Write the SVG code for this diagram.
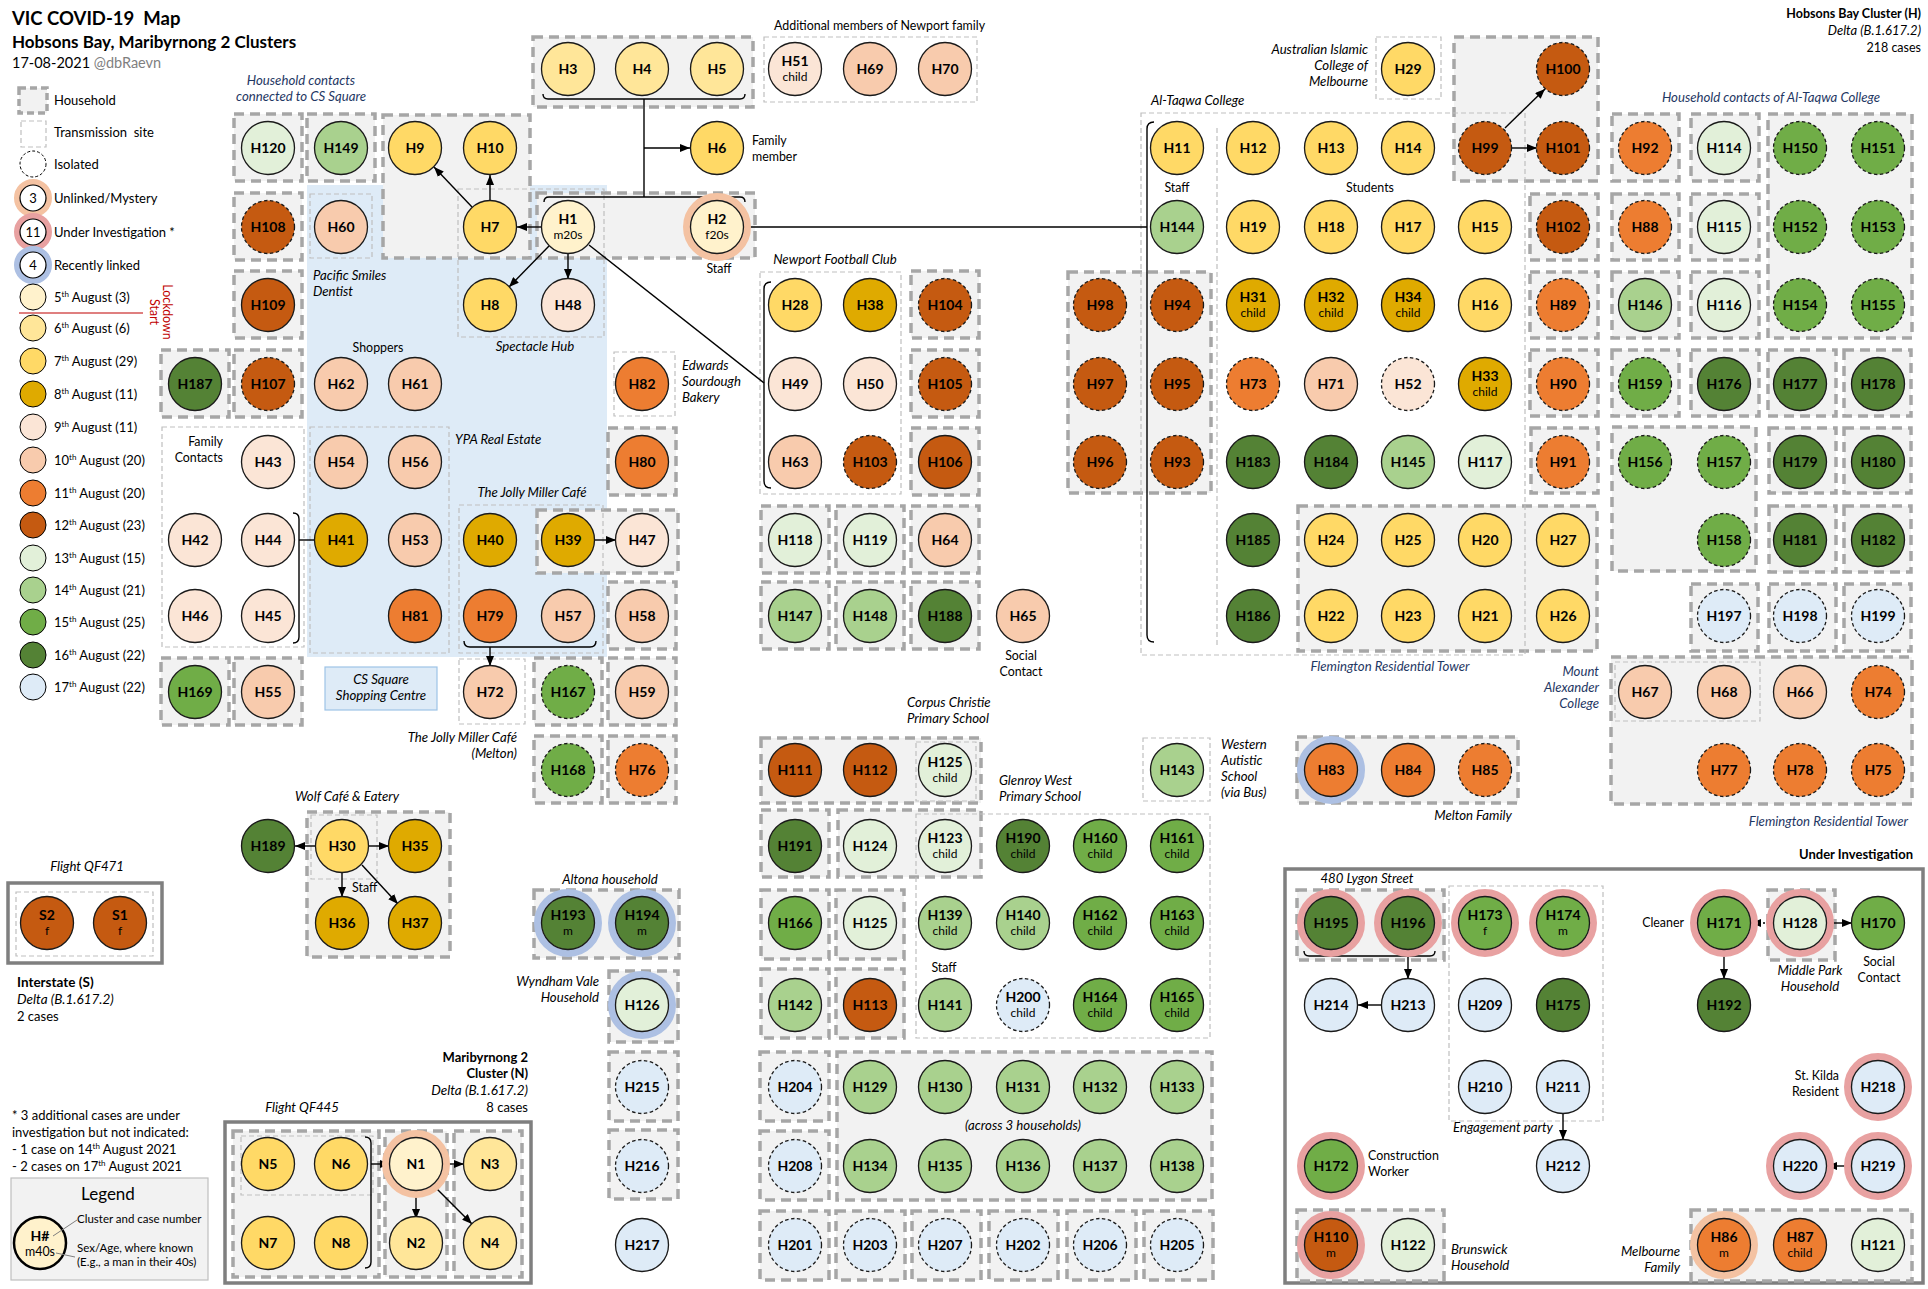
<svg xmlns="http://www.w3.org/2000/svg" width="1928" height="1289" viewBox="0 0 1928 1289">
<style>
text{font-family:Lato,"Liberation Sans",sans-serif;font-size:12.4px;fill:#000}
.n circle{stroke:#1a1a1a;stroke-width:1.3}
.n text{font-weight:bold;font-size:14px;text-anchor:middle}
.n text.s{font-weight:normal;font-size:12px}
.n circle.ds{stroke-dasharray:3.5 2.5}
.n circle.ru{fill:none;stroke:#F4C2A2;stroke-width:7}
.n circle.ri{fill:none;stroke:#E8A1A1;stroke-width:7}
.n circle.rr{fill:none;stroke:#ADC0E3;stroke-width:7}
.d5{fill:#FFF2CC}.d6{fill:#FFE699}.d7{fill:#FFD966}.d8{fill:#DFAA00}.d9{fill:#FBE5D6}.d10{fill:#F8CBAD}.d11{fill:#ED7D31}.d12{fill:#C55A11}.d13{fill:#E2F0D9}.d14{fill:#A9D18E}.d15{fill:#70AD47}.d16{fill:#548235}.d17{fill:#DEEBF7}
.hh{fill:#F2F2F2;stroke:#A6A6A6;stroke-width:3.5;stroke-dasharray:10 6}
.ts{fill:none;stroke:#BFBFBF;stroke-width:1.2;stroke-dasharray:5 3}
.ob{fill:none;stroke:#7F7F7F;stroke-width:3.5}
.c{fill:none;stroke:#000;stroke-width:1.4}
.a{marker-end:url(#arr)}
.i{font-style:italic;font-size:13.2px}.b{font-weight:bold}.db{fill:#1F3864}.m{text-anchor:middle}.e{text-anchor:end}
.lg{font-size:13px}
</style>
<defs>
<marker id="arr" viewBox="0 0 10 8" refX="10" refY="4" markerWidth="10" markerHeight="8" orient="auto" markerUnits="userSpaceOnUse"><path d="M0,0 L10,4 L0,8 z" fill="#000"/></marker>
</defs>
<rect width="1928" height="1289" fill="#fff"/>

<!-- Title -->
<g id="title">
<text x="12" y="25" class="b" style="font-size:18.5px">VIC COVID-19&#160; Map</text>
<text x="12" y="48" class="b" style="font-size:17px">Hobsons Bay, Maribyrnong 2 Clusters</text>
<text x="12" y="68" style="font-size:14.5px">17-08-2021 <tspan fill="#7F7F7F">@dbRaevn</tspan></text>
<text x="1921" y="18" class="b e" style="font-size:12.5px">Hobsons Bay Cluster (H)</text>
<text x="1921" y="35" class="i e" style="font-size:13px">Delta (B.1.617.2)</text>
<text x="1921" y="52" class="e" style="font-size:12.5px">218 cases</text>
</g>

<!-- Legend (left) -->
<g id="legend">
<rect class="hh" x="19" y="88" width="28" height="25" style="stroke-dasharray:7 4"/>
<rect class="ts" x="21" y="121" width="25" height="26"/>
<circle cx="33" cy="164" r="13" fill="#fff" stroke="#000" stroke-width="1" stroke-dasharray="3 2"/>
<circle cx="33" cy="198" r="16" fill="none" stroke="#F4C2A2" stroke-width="6"/>
<circle cx="33" cy="198" r="13" fill="#fff" stroke="#000" stroke-width="1.2"/>
<circle cx="33" cy="232" r="16" fill="none" stroke="#E8A1A1" stroke-width="6"/>
<circle cx="33" cy="232" r="13" fill="#fff" stroke="#000" stroke-width="1.2"/>
<circle cx="33" cy="265" r="16" fill="none" stroke="#ADC0E3" stroke-width="6"/>
<circle cx="33" cy="265" r="13" fill="#fff" stroke="#000" stroke-width="1.2"/>
<text x="33" y="203" class="m lg">3</text>
<text x="33" y="237" class="m lg">11</text>
<text x="33" y="270" class="m lg">4</text>
<g stroke="#000" stroke-width="1">
<circle class="d5" cx="33" cy="297" r="13"/>
<circle class="d6" cx="33" cy="328" r="13"/>
<circle class="d7" cx="33" cy="361" r="13"/>
<circle class="d8" cx="33" cy="394" r="13"/>
<circle class="d9" cx="33" cy="427" r="13"/>
<circle class="d10" cx="33" cy="460" r="13"/>
<circle class="d11" cx="33" cy="493" r="13"/>
<circle class="d12" cx="33" cy="525" r="13"/>
<circle class="d13" cx="33" cy="558" r="13"/>
<circle class="d14" cx="33" cy="590" r="13"/>
<circle class="d15" cx="33" cy="622" r="13"/>
<circle class="d16" cx="33" cy="655" r="13"/>
<circle class="d17" cx="33" cy="687" r="13"/>
</g>
<text x="54" y="105" class="lg">Household</text>
<text x="54" y="137" class="lg">Transmission&#160; site</text>
<text x="54" y="169" class="lg">Isolated</text>
<text x="54" y="203" class="lg">Unlinked/Mystery</text>
<text x="54" y="237" class="lg">Under Investigation *</text>
<text x="54" y="270" class="lg">Recently linked</text>
<text x="54" y="302" class="lg">5<tspan dy="-5" font-size="8">th</tspan><tspan dy="5"> August (3)</tspan></text>
<text x="54" y="333" class="lg">6<tspan dy="-5" font-size="8">th</tspan><tspan dy="5"> August (6)</tspan></text>
<text x="54" y="366" class="lg">7<tspan dy="-5" font-size="8">th</tspan><tspan dy="5"> August (29)</tspan></text>
<text x="54" y="399" class="lg">8<tspan dy="-5" font-size="8">th</tspan><tspan dy="5"> August (11)</tspan></text>
<text x="54" y="432" class="lg">9<tspan dy="-5" font-size="8">th</tspan><tspan dy="5"> August (11)</tspan></text>
<text x="54" y="465" class="lg">10<tspan dy="-5" font-size="8">th</tspan><tspan dy="5"> August (20)</tspan></text>
<text x="54" y="498" class="lg">11<tspan dy="-5" font-size="8">th</tspan><tspan dy="5"> August (20)</tspan></text>
<text x="54" y="530" class="lg">12<tspan dy="-5" font-size="8">th</tspan><tspan dy="5"> August (23)</tspan></text>
<text x="54" y="563" class="lg">13<tspan dy="-5" font-size="8">th</tspan><tspan dy="5"> August (15)</tspan></text>
<text x="54" y="595" class="lg">14<tspan dy="-5" font-size="8">th</tspan><tspan dy="5"> August (21)</tspan></text>
<text x="54" y="627" class="lg">15<tspan dy="-5" font-size="8">th</tspan><tspan dy="5"> August (25)</tspan></text>
<text x="54" y="660" class="lg">16<tspan dy="-5" font-size="8">th</tspan><tspan dy="5"> August (22)</tspan></text>
<text x="54" y="692" class="lg">17<tspan dy="-5" font-size="8">th</tspan><tspan dy="5"> August (22)</tspan></text>
<line x1="19" y1="313" x2="143" y2="313" stroke="#C00000" stroke-width="1.2"/>
<text transform="translate(163,312) rotate(90)" class="m" style="fill:#C00000">Lockdown<tspan x="0" dy="13">Start</tspan></text>
</g>

<!-- Regions / boxes -->
<g id="regions">
<rect x="307" y="185" width="300" height="472" fill="#DEEBF7"/>
<rect class="hh" x="383" y="115" width="147" height="143"/>
<rect class="hh" x="533" y="37" width="220" height="70"/>
<rect class="hh" x="537" y="193" width="218" height="65"/>
<rect class="hh" x="537" y="510" width="141" height="63"/>
<rect class="hh" x="761" y="738" width="220" height="65"/>
<rect class="hh" x="838" y="810" width="143" height="67"/>
<rect class="hh" x="837" y="1052" width="375" height="148"/>
<rect class="hh" x="534" y="890" width="145" height="68"/>
<rect class="hh" x="307" y="812" width="143" height="145"/>
<rect class="hh" x="1068" y="272" width="143" height="221"/>
<rect class="hh" x="1454" y="37" width="144" height="144"/>
<rect class="hh" x="1768" y="114" width="144" height="224"/>
<rect class="hh" x="1612" y="427" width="144" height="144"/>
<rect class="hh" x="1298" y="506" width="299" height="145"/>
<rect class="hh" x="1611" y="657" width="301" height="147"/>
<rect class="hh" x="1297" y="737" width="221" height="66"/>
<g>
<rect class="hh" x="234" y="114" width="68" height="67"/>
<rect class="hh" x="307" y="114" width="68" height="67"/>
<rect class="hh" x="234" y="193" width="68" height="67"/>
<rect class="hh" x="234" y="271" width="68" height="67"/>
<rect class="hh" x="161" y="350" width="68" height="67"/>
<rect class="hh" x="234" y="350" width="68" height="67"/>
<rect class="hh" x="161" y="658" width="68" height="67"/>
<rect class="hh" x="234" y="658" width="68" height="67"/>
<rect class="hh" x="911" y="271" width="68" height="67"/>
<rect class="hh" x="911" y="350" width="68" height="67"/>
<rect class="hh" x="911" y="428" width="68" height="67"/>
<rect class="hh" x="608" y="428" width="68" height="67"/>
<rect class="hh" x="608" y="582" width="68" height="67"/>
<rect class="hh" x="534" y="658" width="68" height="67"/>
<rect class="hh" x="608" y="658" width="68" height="67"/>
<rect class="hh" x="534" y="736" width="68" height="67"/>
<rect class="hh" x="608" y="736" width="68" height="67"/>
<rect class="hh" x="761" y="506" width="68" height="67"/>
<rect class="hh" x="836" y="506" width="68" height="67"/>
<rect class="hh" x="911" y="506" width="68" height="67"/>
<rect class="hh" x="761" y="582" width="68" height="67"/>
<rect class="hh" x="836" y="582" width="68" height="67"/>
<rect class="hh" x="911" y="582" width="68" height="67"/>
<rect class="hh" x="761" y="810" width="68" height="67"/>
<rect class="hh" x="761" y="890" width="68" height="69"/>
<rect class="hh" x="836" y="890" width="68" height="69"/>
<rect class="hh" x="761" y="969" width="68" height="69"/>
<rect class="hh" x="836" y="969" width="68" height="69"/>
<rect class="hh" x="760" y="1052" width="69" height="69"/>
<rect class="hh" x="760" y="1131" width="69" height="69"/>
<rect class="hh" x="760" y="1211" width="69" height="69"/>
<rect class="hh" x="836" y="1211" width="69" height="69"/>
<rect class="hh" x="912" y="1211" width="69" height="69"/>
<rect class="hh" x="989" y="1211" width="69" height="69"/>
<rect class="hh" x="1067" y="1211" width="69" height="69"/>
<rect class="hh" x="1144" y="1211" width="69" height="69"/>
<rect class="hh" x="609" y="971" width="69" height="71"/>
<rect class="hh" x="609" y="1052" width="69" height="69"/>
<rect class="hh" x="609" y="1130" width="69" height="69"/>
<rect class="hh" x="1530" y="194" width="68" height="66"/>
<rect class="hh" x="1530" y="272" width="68" height="66"/>
<rect class="hh" x="1530" y="350" width="68" height="66"/>
<rect class="hh" x="1531" y="428" width="67" height="65"/>
<rect class="hh" x="1612" y="114" width="67" height="67"/>
<rect class="hh" x="1691" y="114" width="68" height="67"/>
<rect class="hh" x="1612" y="194" width="67" height="66"/>
<rect class="hh" x="1691" y="194" width="68" height="66"/>
<rect class="hh" x="1612" y="272" width="67" height="66"/>
<rect class="hh" x="1691" y="272" width="68" height="66"/>
<rect class="hh" x="1612" y="350" width="67" height="66"/>
<rect class="hh" x="1691" y="350" width="68" height="66"/>
<rect class="hh" x="1768" y="350" width="68" height="66"/>
<rect class="hh" x="1844" y="350" width="67" height="66"/>
<rect class="hh" x="1769" y="428" width="67" height="65"/>
<rect class="hh" x="1844" y="428" width="67" height="65"/>
<rect class="hh" x="1769" y="506" width="67" height="66"/>
<rect class="hh" x="1844" y="506" width="67" height="66"/>
<rect class="hh" x="1691" y="584" width="67" height="67"/>
<rect class="hh" x="1769" y="584" width="67" height="67"/>
<rect class="hh" x="1844" y="584" width="67" height="67"/>
</g>
<!-- transmission sites -->
<rect class="ts" x="458" y="189" width="146" height="148"/>
<rect class="ts" x="310" y="194" width="62" height="64"/>
<rect class="ts" x="310" y="427" width="139" height="226"/>
<rect class="ts" x="459" y="505" width="144" height="148"/>
<rect class="ts" x="459" y="659" width="66" height="65"/>
<rect class="ts" x="162" y="427" width="142" height="220"/>
<rect class="ts" x="764" y="37" width="213" height="65"/>
<rect class="ts" x="760" y="272" width="141" height="222"/>
<rect class="ts" x="614" y="352" width="61" height="64"/>
<rect class="ts" x="1376" y="37" width="65" height="62"/>
<rect class="ts" x="1141" y="113" width="384" height="542"/>
<line class="ts" x1="1217" y1="128" x2="1217" y2="647"/>
<rect class="ts" x="311" y="815" width="66" height="64"/>
<rect class="ts" x="916" y="742" width="60" height="59"/>
<rect class="ts" x="916" y="814" width="294" height="224"/>
<rect class="ts" x="1143" y="738" width="67" height="63"/>
<rect class="ts" x="1449" y="886" width="154" height="235"/>
<rect class="ts" x="1615" y="662" width="145" height="59"/>
<rect x="325" y="667" width="112" height="43" fill="#DEEBF7" stroke="#9DC3E6" stroke-width="1.2"/>
<!-- outer cluster boxes -->
<rect class="ob" x="8" y="883" width="154" height="80"/>
<rect class="ts" x="16" y="892" width="137" height="64"/>
<rect class="ob" x="225" y="1122" width="306" height="161"/>
<rect class="hh" x="233" y="1131" width="146" height="146"/>
<rect class="hh" x="385" y="1131" width="62" height="146"/>
<rect class="hh" x="454" y="1131" width="68" height="146"/>
<rect class="ts" x="241" y="1136" width="132" height="59"/>
<rect class="ob" x="1285" y="869" width="638" height="414"/>
<rect class="hh" x="1297" y="890" width="147" height="70"/>
<rect class="hh" x="1297" y="1210" width="147" height="71"/>
<rect class="hh" x="1768" y="890" width="67" height="70"/>
<rect class="hh" x="1691" y="1210" width="221" height="71"/>
</g>

<!-- Connectors -->
<g id="connectors">
<path class="c" d="M543,94 Q543,99 548,99 L740,99 Q745,99 745,94"/>
<path class="c" d="M644,99 L644,197"/>
<path class="c a" d="M644,148 L690,148"/>
<path class="c" d="M544,202 Q544,197 549,197 L740,197 Q745,197 745,202"/>
<path class="c" d="M744,227 L1147,227"/>
<path class="c" d="M1154,122 Q1147,122 1147,129 L1147,635 Q1147,642 1154,642"/>
<path class="c a" d="M541,227 L517,227"/>
<path class="c a" d="M490,200 L490,175"/>
<path class="c a" d="M472,207 L434,167"/>
<path class="c a" d="M549,246 L509,287"/>
<path class="c a" d="M568,254 L568,279"/>
<path class="c" d="M589,245 L764,383" stroke-width="1"/>
<path class="c" d="M771,282 Q764,282 764,289 L764,481 Q764,488 771,488"/>
<path class="c" d="M293,513 Q299,513 299,519 L299,637 Q299,643 293,643"/>
<path class="c" d="M299,540 L315,540"/>
<path class="c a" d="M595,540 L616,540"/>
<path class="c" d="M464,641 Q464,647 470,647 L590,647 Q596,647 596,641"/>
<path class="c a" d="M490,647 L490,666"/>
<path class="c a" d="M1505,128 L1545,89"/>
<path class="c a" d="M1512,148 L1537,148"/>
<path class="c a" d="M315,846 L295,846"/>
<path class="c a" d="M369,846 L389,846"/>
<path class="c a" d="M342,873 L342,897"/>
<path class="c a" d="M362,865 L398,904"/>
<path class="c" d="M365,1137 Q371,1137 371,1143 L371,1262 Q371,1268 365,1268"/>
<path class="c a" d="M371,1164 L390,1164"/>
<path class="c a" d="M443,1164 L464,1164"/>
<path class="c a" d="M416,1193 L416,1219"/>
<path class="c a" d="M435,1187 L472,1224"/>
<path class="c" d="M1304,951 Q1304,956 1309,956 L1430,956 Q1435,956 1435,951"/>
<path class="c a" d="M1408,956 L1408,979"/>
<path class="c a" d="M1381,1005 L1358,1005"/>
<path class="c a" d="M1563,1114 L1563,1140"/>
<path class="c a" d="M1724,950 L1724,979"/>
<path class="c a" d="M1773,923 L1751,923" stroke-dasharray="2 2"/>
<path class="c a" d="M1827,923 L1852,923"/>
<path class="c a" d="M1851,1166 L1827,1166"/>
</g>

<!-- Nodes -->
<g id="nodes" class="n">
<g id="H3"><circle class="d6" cx="568" cy="69" r="26.5"/><text x="568" y="74">H3</text></g>
<g id="H4"><circle class="d6" cx="642" cy="69" r="26.5"/><text x="642" y="74">H4</text></g>
<g id="H5"><circle class="d6" cx="717" cy="69" r="26.5"/><text x="717" y="74">H5</text></g>
<g id="H51"><circle class="d9" cx="795" cy="69" r="26.5"/><text x="795" y="66">H51</text><text class="s" x="795" y="81">child</text></g>
<g id="H69"><circle class="d10" cx="870" cy="69" r="26.5"/><text x="870" y="74">H69</text></g>
<g id="H70"><circle class="d10" cx="945" cy="69" r="26.5"/><text x="945" y="74">H70</text></g>
<g id="H29"><circle class="d7" cx="1408" cy="69" r="26.5"/><text x="1408" y="74">H29</text></g>
<g id="H100"><circle class="d12 ds" cx="1563" cy="69" r="26.5"/><text x="1563" y="74">H100</text></g>

<g id="H120"><circle class="d13" cx="268" cy="148" r="26.5"/><text x="268" y="153">H120</text></g>
<g id="H149"><circle class="d14" cx="341" cy="148" r="26.5"/><text x="341" y="153">H149</text></g>
<g id="H9"><circle class="d7" cx="415" cy="148" r="26.5"/><text x="415" y="153">H9</text></g>
<g id="H10"><circle class="d7" cx="490" cy="148" r="26.5"/><text x="490" y="153">H10</text></g>
<g id="H6"><circle class="d7" cx="717" cy="148" r="26.5"/><text x="717" y="153">H6</text></g>
<g id="H11"><circle class="d7" cx="1177" cy="148" r="26.5"/><text x="1177" y="153">H11</text></g>
<g id="H12"><circle class="d7" cx="1253" cy="148" r="26.5"/><text x="1253" y="153">H12</text></g>
<g id="H13"><circle class="d7" cx="1331" cy="148" r="26.5"/><text x="1331" y="153">H13</text></g>
<g id="H14"><circle class="d7" cx="1408" cy="148" r="26.5"/><text x="1408" y="153">H14</text></g>
<g id="H99"><circle class="d12 ds" cx="1485" cy="148" r="26.5"/><text x="1485" y="153">H99</text></g>
<g id="H101"><circle class="d12 ds" cx="1563" cy="148" r="26.5"/><text x="1563" y="153">H101</text></g>
<g id="H92"><circle class="d11 ds" cx="1645" cy="148" r="26.5"/><text x="1645" y="153">H92</text></g>
<g id="H114"><circle class="d13" cx="1724" cy="148" r="26.5"/><text x="1724" y="153">H114</text></g>
<g id="H150"><circle class="d15 ds" cx="1800" cy="148" r="26.5"/><text x="1800" y="153">H150</text></g>
<g id="H151"><circle class="d15 ds" cx="1878" cy="148" r="26.5"/><text x="1878" y="153">H151</text></g>

<g id="H108"><circle class="d12 ds" cx="268" cy="227" r="26.5"/><text x="268" y="232">H108</text></g>
<g id="H60"><circle class="d10" cx="341" cy="227" r="26.5"/><text x="341" y="232">H60</text></g>
<g id="H7"><circle class="d7" cx="490" cy="227" r="26.5"/><text x="490" y="232">H7</text></g>
<g id="H1"><circle class="d5" cx="568" cy="227" r="26.5"/><text x="568" y="224">H1</text><text class="s" x="568" y="239">m20s</text></g>
<g id="H2"><circle class="ru" cx="717" cy="227" r="30.5"/><circle class="d5" cx="717" cy="227" r="26.5"/><text x="717" y="224">H2</text><text class="s" x="717" y="239">f20s</text></g>
<g id="H144"><circle class="d14" cx="1177" cy="227" r="26.5"/><text x="1177" y="232">H144</text></g>
<g id="H19"><circle class="d7" cx="1253" cy="227" r="26.5"/><text x="1253" y="232">H19</text></g>
<g id="H18"><circle class="d7" cx="1331" cy="227" r="26.5"/><text x="1331" y="232">H18</text></g>
<g id="H17"><circle class="d7" cx="1408" cy="227" r="26.5"/><text x="1408" y="232">H17</text></g>
<g id="H15"><circle class="d7" cx="1485" cy="227" r="26.5"/><text x="1485" y="232">H15</text></g>
<g id="H102"><circle class="d12 ds" cx="1563" cy="227" r="26.5"/><text x="1563" y="232">H102</text></g>
<g id="H88"><circle class="d11 ds" cx="1645" cy="227" r="26.5"/><text x="1645" y="232">H88</text></g>
<g id="H115"><circle class="d13" cx="1724" cy="227" r="26.5"/><text x="1724" y="232">H115</text></g>
<g id="H152"><circle class="d15 ds" cx="1800" cy="227" r="26.5"/><text x="1800" y="232">H152</text></g>
<g id="H153"><circle class="d15 ds" cx="1878" cy="227" r="26.5"/><text x="1878" y="232">H153</text></g>

<g id="H109"><circle class="d12" cx="268" cy="305" r="26.5"/><text x="268" y="310">H109</text></g>
<g id="H8"><circle class="d7" cx="490" cy="305" r="26.5"/><text x="490" y="310">H8</text></g>
<g id="H48"><circle class="d9" cx="568" cy="305" r="26.5"/><text x="568" y="310">H48</text></g>
<g id="H28"><circle class="d7" cx="795" cy="305" r="26.5"/><text x="795" y="310">H28</text></g>
<g id="H38"><circle class="d8" cx="870" cy="305" r="26.5"/><text x="870" y="310">H38</text></g>
<g id="H104"><circle class="d12 ds" cx="945" cy="305" r="26.5"/><text x="945" y="310">H104</text></g>
<g id="H98"><circle class="d12 ds" cx="1100" cy="305" r="26.5"/><text x="1100" y="310">H98</text></g>
<g id="H94"><circle class="d12 ds" cx="1177" cy="305" r="26.5"/><text x="1177" y="310">H94</text></g>
<g id="H31"><circle class="d8" cx="1253" cy="305" r="26.5"/><text x="1253" y="302">H31</text><text class="s" x="1253" y="317">child</text></g>
<g id="H32"><circle class="d8" cx="1331" cy="305" r="26.5"/><text x="1331" y="302">H32</text><text class="s" x="1331" y="317">child</text></g>
<g id="H34"><circle class="d8" cx="1408" cy="305" r="26.5"/><text x="1408" y="302">H34</text><text class="s" x="1408" y="317">child</text></g>
<g id="H16"><circle class="d7" cx="1485" cy="305" r="26.5"/><text x="1485" y="310">H16</text></g>
<g id="H89"><circle class="d11 ds" cx="1563" cy="305" r="26.5"/><text x="1563" y="310">H89</text></g>
<g id="H146"><circle class="d14" cx="1645" cy="305" r="26.5"/><text x="1645" y="310">H146</text></g>
<g id="H116"><circle class="d13" cx="1724" cy="305" r="26.5"/><text x="1724" y="310">H116</text></g>
<g id="H154"><circle class="d15 ds" cx="1800" cy="305" r="26.5"/><text x="1800" y="310">H154</text></g>
<g id="H155"><circle class="d15 ds" cx="1878" cy="305" r="26.5"/><text x="1878" y="310">H155</text></g>

<g id="H187"><circle class="d16" cx="195" cy="384" r="26.5"/><text x="195" y="389">H187</text></g>
<g id="H107"><circle class="d12 ds" cx="268" cy="384" r="26.5"/><text x="268" y="389">H107</text></g>
<g id="H62"><circle class="d10" cx="341" cy="384" r="26.5"/><text x="341" y="389">H62</text></g>
<g id="H61"><circle class="d10" cx="415" cy="384" r="26.5"/><text x="415" y="389">H61</text></g>
<g id="H82"><circle class="d11" cx="642" cy="384" r="26.5"/><text x="642" y="389">H82</text></g>
<g id="H49"><circle class="d9" cx="795" cy="384" r="26.5"/><text x="795" y="389">H49</text></g>
<g id="H50"><circle class="d9" cx="870" cy="384" r="26.5"/><text x="870" y="389">H50</text></g>
<g id="H105"><circle class="d12 ds" cx="945" cy="384" r="26.5"/><text x="945" y="389">H105</text></g>
<g id="H97"><circle class="d12 ds" cx="1100" cy="384" r="26.5"/><text x="1100" y="389">H97</text></g>
<g id="H95"><circle class="d12 ds" cx="1177" cy="384" r="26.5"/><text x="1177" y="389">H95</text></g>
<g id="H73"><circle class="d11 ds" cx="1253" cy="384" r="26.5"/><text x="1253" y="389">H73</text></g>
<g id="H71"><circle class="d10" cx="1331" cy="384" r="26.5"/><text x="1331" y="389">H71</text></g>
<g id="H52"><circle class="d9 ds" cx="1408" cy="384" r="26.5"/><text x="1408" y="389">H52</text></g>
<g id="H33"><circle class="d8" cx="1485" cy="384" r="26.5"/><text x="1485" y="381">H33</text><text class="s" x="1485" y="396">child</text></g>
<g id="H90"><circle class="d11 ds" cx="1563" cy="384" r="26.5"/><text x="1563" y="389">H90</text></g>
<g id="H159"><circle class="d15 ds" cx="1645" cy="384" r="26.5"/><text x="1645" y="389">H159</text></g>
<g id="H176"><circle class="d16" cx="1724" cy="384" r="26.5"/><text x="1724" y="389">H176</text></g>
<g id="H177"><circle class="d16" cx="1800" cy="384" r="26.5"/><text x="1800" y="389">H177</text></g>
<g id="H178"><circle class="d16" cx="1878" cy="384" r="26.5"/><text x="1878" y="389">H178</text></g>

<g id="H43"><circle class="d9" cx="268" cy="462" r="26.5"/><text x="268" y="467">H43</text></g>
<g id="H54"><circle class="d10" cx="341" cy="462" r="26.5"/><text x="341" y="467">H54</text></g>
<g id="H56"><circle class="d10" cx="415" cy="462" r="26.5"/><text x="415" y="467">H56</text></g>
<g id="H80"><circle class="d11" cx="642" cy="462" r="26.5"/><text x="642" y="467">H80</text></g>
<g id="H63"><circle class="d10" cx="795" cy="462" r="26.5"/><text x="795" y="467">H63</text></g>
<g id="H103"><circle class="d12 ds" cx="870" cy="462" r="26.5"/><text x="870" y="467">H103</text></g>
<g id="H106"><circle class="d12" cx="945" cy="462" r="26.5"/><text x="945" y="467">H106</text></g>
<g id="H96"><circle class="d12 ds" cx="1100" cy="462" r="26.5"/><text x="1100" y="467">H96</text></g>
<g id="H93"><circle class="d12 ds" cx="1177" cy="462" r="26.5"/><text x="1177" y="467">H93</text></g>
<g id="H183"><circle class="d16" cx="1253" cy="462" r="26.5"/><text x="1253" y="467">H183</text></g>
<g id="H184"><circle class="d16" cx="1331" cy="462" r="26.5"/><text x="1331" y="467">H184</text></g>
<g id="H145"><circle class="d14" cx="1408" cy="462" r="26.5"/><text x="1408" y="467">H145</text></g>
<g id="H117"><circle class="d13" cx="1485" cy="462" r="26.5"/><text x="1485" y="467">H117</text></g>
<g id="H91"><circle class="d11 ds" cx="1563" cy="462" r="26.5"/><text x="1563" y="467">H91</text></g>
<g id="H156"><circle class="d15 ds" cx="1645" cy="462" r="26.5"/><text x="1645" y="467">H156</text></g>
<g id="H157"><circle class="d15 ds" cx="1724" cy="462" r="26.5"/><text x="1724" y="467">H157</text></g>
<g id="H179"><circle class="d16" cx="1800" cy="462" r="26.5"/><text x="1800" y="467">H179</text></g>
<g id="H180"><circle class="d16" cx="1878" cy="462" r="26.5"/><text x="1878" y="467">H180</text></g>

<g id="H42"><circle class="d9" cx="195" cy="540" r="26.5"/><text x="195" y="545">H42</text></g>
<g id="H44"><circle class="d9" cx="268" cy="540" r="26.5"/><text x="268" y="545">H44</text></g>
<g id="H41"><circle class="d8" cx="341" cy="540" r="26.5"/><text x="341" y="545">H41</text></g>
<g id="H53"><circle class="d10" cx="415" cy="540" r="26.5"/><text x="415" y="545">H53</text></g>
<g id="H40"><circle class="d8" cx="490" cy="540" r="26.5"/><text x="490" y="545">H40</text></g>
<g id="H39"><circle class="d8" cx="568" cy="540" r="26.5"/><text x="568" y="545">H39</text></g>
<g id="H47"><circle class="d9" cx="642" cy="540" r="26.5"/><text x="642" y="545">H47</text></g>
<g id="H118"><circle class="d13" cx="795" cy="540" r="26.5"/><text x="795" y="545">H118</text></g>
<g id="H119"><circle class="d13" cx="870" cy="540" r="26.5"/><text x="870" y="545">H119</text></g>
<g id="H64"><circle class="d10" cx="945" cy="540" r="26.5"/><text x="945" y="545">H64</text></g>
<g id="H185"><circle class="d16" cx="1253" cy="540" r="26.5"/><text x="1253" y="545">H185</text></g>
<g id="H24"><circle class="d7" cx="1331" cy="540" r="26.5"/><text x="1331" y="545">H24</text></g>
<g id="H25"><circle class="d7" cx="1408" cy="540" r="26.5"/><text x="1408" y="545">H25</text></g>
<g id="H20"><circle class="d7" cx="1485" cy="540" r="26.5"/><text x="1485" y="545">H20</text></g>
<g id="H27"><circle class="d7" cx="1563" cy="540" r="26.5"/><text x="1563" y="545">H27</text></g>
<g id="H158"><circle class="d15 ds" cx="1724" cy="540" r="26.5"/><text x="1724" y="545">H158</text></g>
<g id="H181"><circle class="d16" cx="1800" cy="540" r="26.5"/><text x="1800" y="545">H181</text></g>
<g id="H182"><circle class="d16" cx="1878" cy="540" r="26.5"/><text x="1878" y="545">H182</text></g>

<g id="H46"><circle class="d9" cx="195" cy="616" r="26.5"/><text x="195" y="621">H46</text></g>
<g id="H45"><circle class="d9" cx="268" cy="616" r="26.5"/><text x="268" y="621">H45</text></g>
<g id="H81"><circle class="d11" cx="415" cy="616" r="26.5"/><text x="415" y="621">H81</text></g>
<g id="H79"><circle class="d11" cx="490" cy="616" r="26.5"/><text x="490" y="621">H79</text></g>
<g id="H57"><circle class="d10" cx="568" cy="616" r="26.5"/><text x="568" y="621">H57</text></g>
<g id="H58"><circle class="d10" cx="642" cy="616" r="26.5"/><text x="642" y="621">H58</text></g>
<g id="H147"><circle class="d14" cx="795" cy="616" r="26.5"/><text x="795" y="621">H147</text></g>
<g id="H148"><circle class="d14" cx="870" cy="616" r="26.5"/><text x="870" y="621">H148</text></g>
<g id="H188"><circle class="d16" cx="945" cy="616" r="26.5"/><text x="945" y="621">H188</text></g>
<g id="H65"><circle class="d10" cx="1023" cy="616" r="26.5"/><text x="1023" y="621">H65</text></g>
<g id="H186"><circle class="d16" cx="1253" cy="616" r="26.5"/><text x="1253" y="621">H186</text></g>
<g id="H22"><circle class="d7" cx="1331" cy="616" r="26.5"/><text x="1331" y="621">H22</text></g>
<g id="H23"><circle class="d7" cx="1408" cy="616" r="26.5"/><text x="1408" y="621">H23</text></g>
<g id="H21"><circle class="d7" cx="1485" cy="616" r="26.5"/><text x="1485" y="621">H21</text></g>
<g id="H26"><circle class="d7" cx="1563" cy="616" r="26.5"/><text x="1563" y="621">H26</text></g>
<g id="H197"><circle class="d17 ds" cx="1724" cy="616" r="26.5"/><text x="1724" y="621">H197</text></g>
<g id="H198"><circle class="d17 ds" cx="1800" cy="616" r="26.5"/><text x="1800" y="621">H198</text></g>
<g id="H199"><circle class="d17 ds" cx="1878" cy="616" r="26.5"/><text x="1878" y="621">H199</text></g>

<g id="H169"><circle class="d15" cx="195" cy="692" r="26.5"/><text x="195" y="697">H169</text></g>
<g id="H55"><circle class="d10" cx="268" cy="692" r="26.5"/><text x="268" y="697">H55</text></g>
<g id="H72"><circle class="d10" cx="490" cy="692" r="26.5"/><text x="490" y="697">H72</text></g>
<g id="H167"><circle class="d15 ds" cx="568" cy="692" r="26.5"/><text x="568" y="697">H167</text></g>
<g id="H59"><circle class="d10" cx="642" cy="692" r="26.5"/><text x="642" y="697">H59</text></g>
<g id="H67"><circle class="d10" cx="1645" cy="692" r="26.5"/><text x="1645" y="697">H67</text></g>
<g id="H68"><circle class="d10" cx="1724" cy="692" r="26.5"/><text x="1724" y="697">H68</text></g>
<g id="H66"><circle class="d10" cx="1800" cy="692" r="26.5"/><text x="1800" y="697">H66</text></g>
<g id="H74"><circle class="d11 ds" cx="1878" cy="692" r="26.5"/><text x="1878" y="697">H74</text></g>

<g id="H168"><circle class="d15 ds" cx="568" cy="770" r="26.5"/><text x="568" y="775">H168</text></g>
<g id="H76"><circle class="d11 ds" cx="642" cy="770" r="26.5"/><text x="642" y="775">H76</text></g>
<g id="H111"><circle class="d12" cx="795" cy="770" r="26.5"/><text x="795" y="775">H111</text></g>
<g id="H112"><circle class="d12" cx="870" cy="770" r="26.5"/><text x="870" y="775">H112</text></g>
<g id="H125-child"><circle class="d13" cx="945" cy="770" r="26.5"/><text x="945" y="767">H125</text><text class="s" x="945" y="782">child</text></g>
<g id="H143"><circle class="d14" cx="1177" cy="770" r="26.5"/><text x="1177" y="775">H143</text></g>
<g id="H83"><circle class="rr" cx="1331" cy="770" r="30.5"/><circle class="d11" cx="1331" cy="770" r="26.5"/><text x="1331" y="775">H83</text></g>
<g id="H84"><circle class="d11" cx="1408" cy="770" r="26.5"/><text x="1408" y="775">H84</text></g>
<g id="H85"><circle class="d11 ds" cx="1485" cy="770" r="26.5"/><text x="1485" y="775">H85</text></g>
<g id="H77"><circle class="d11 ds" cx="1724" cy="770" r="26.5"/><text x="1724" y="775">H77</text></g>
<g id="H78"><circle class="d11 ds" cx="1800" cy="770" r="26.5"/><text x="1800" y="775">H78</text></g>
<g id="H75"><circle class="d11 ds" cx="1878" cy="770" r="26.5"/><text x="1878" y="775">H75</text></g>

<g id="H189"><circle class="d16" cx="268" cy="846" r="26.5"/><text x="268" y="851">H189</text></g>
<g id="H30"><circle class="d7" cx="342" cy="846" r="26.5"/><text x="342" y="851">H30</text></g>
<g id="H35"><circle class="d8" cx="415" cy="846" r="26.5"/><text x="415" y="851">H35</text></g>
<g id="H191"><circle class="d16" cx="795" cy="846" r="26.5"/><text x="795" y="851">H191</text></g>
<g id="H124"><circle class="d13" cx="870" cy="846" r="26.5"/><text x="870" y="851">H124</text></g>
<g id="H123"><circle class="d13" cx="945" cy="846" r="26.5"/><text x="945" y="843">H123</text><text class="s" x="945" y="858">child</text></g>
<g id="H190"><circle class="d16" cx="1023" cy="846" r="26.5"/><text x="1023" y="843">H190</text><text class="s" x="1023" y="858">child</text></g>
<g id="H160"><circle class="d15" cx="1100" cy="846" r="26.5"/><text x="1100" y="843">H160</text><text class="s" x="1100" y="858">child</text></g>
<g id="H161"><circle class="d15" cx="1177" cy="846" r="26.5"/><text x="1177" y="843">H161</text><text class="s" x="1177" y="858">child</text></g>

<g id="S2"><circle class="d12" cx="47" cy="923" r="26.5"/><text x="47" y="920">S2</text><text class="s" x="47" y="935">f</text></g>
<g id="S1"><circle class="d12" cx="120" cy="923" r="26.5"/><text x="120" y="920">S1</text><text class="s" x="120" y="935">f</text></g>
<g id="H36"><circle class="d8" cx="342" cy="923" r="26.5"/><text x="342" y="928">H36</text></g>
<g id="H37"><circle class="d8" cx="415" cy="923" r="26.5"/><text x="415" y="928">H37</text></g>
<g id="H193"><circle class="rr" cx="568" cy="923" r="30.5"/><circle class="d16" cx="568" cy="923" r="26.5"/><text x="568" y="920">H193</text><text class="s" x="568" y="935">m</text></g>
<g id="H194"><circle class="rr" cx="642" cy="923" r="30.5"/><circle class="d16" cx="642" cy="923" r="26.5"/><text x="642" y="920">H194</text><text class="s" x="642" y="935">m</text></g>
<g id="H166"><circle class="d15" cx="795" cy="923" r="26.5"/><text x="795" y="928">H166</text></g>
<g id="H125"><circle class="d13" cx="870" cy="923" r="26.5"/><text x="870" y="928">H125</text></g>
<g id="H139"><circle class="d14" cx="945" cy="923" r="26.5"/><text x="945" y="920">H139</text><text class="s" x="945" y="935">child</text></g>
<g id="H140"><circle class="d14" cx="1023" cy="923" r="26.5"/><text x="1023" y="920">H140</text><text class="s" x="1023" y="935">child</text></g>
<g id="H162"><circle class="d15" cx="1100" cy="923" r="26.5"/><text x="1100" y="920">H162</text><text class="s" x="1100" y="935">child</text></g>
<g id="H163"><circle class="d15" cx="1177" cy="923" r="26.5"/><text x="1177" y="920">H163</text><text class="s" x="1177" y="935">child</text></g>
<g id="H195"><circle class="ri" cx="1331" cy="923" r="30.5"/><circle class="d16" cx="1331" cy="923" r="26.5"/><text x="1331" y="928">H195</text></g>
<g id="H196"><circle class="ri" cx="1408" cy="923" r="30.5"/><circle class="d16" cx="1408" cy="923" r="26.5"/><text x="1408" y="928">H196</text></g>
<g id="H173"><circle class="ri" cx="1485" cy="923" r="30.5"/><circle class="d15" cx="1485" cy="923" r="26.5"/><text x="1485" y="920">H173</text><text class="s" x="1485" y="935">f</text></g>
<g id="H174"><circle class="ri" cx="1563" cy="923" r="30.5"/><circle class="d15" cx="1563" cy="923" r="26.5"/><text x="1563" y="920">H174</text><text class="s" x="1563" y="935">m</text></g>
<g id="H171"><circle class="ri" cx="1724" cy="923" r="30.5"/><circle class="d15" cx="1724" cy="923" r="26.5"/><text x="1724" y="928">H171</text></g>
<g id="H128"><circle class="ri" cx="1800" cy="923" r="30.5"/><circle class="d13" cx="1800" cy="923" r="26.5"/><text x="1800" y="928">H128</text></g>
<g id="H170"><circle class="d15" cx="1878" cy="923" r="26.5"/><text x="1878" y="928">H170</text></g>

<g id="H126"><circle class="rr" cx="642" cy="1005" r="30.5"/><circle class="d13" cx="642" cy="1005" r="26.5"/><text x="642" y="1010">H126</text></g>
<g id="H142"><circle class="d14" cx="795" cy="1005" r="26.5"/><text x="795" y="1010">H142</text></g>
<g id="H113"><circle class="d12" cx="870" cy="1005" r="26.5"/><text x="870" y="1010">H113</text></g>
<g id="H141"><circle class="d14" cx="945" cy="1005" r="26.5"/><text x="945" y="1010">H141</text></g>
<g id="H200"><circle class="d17 ds" cx="1023" cy="1005" r="26.5"/><text x="1023" y="1002">H200</text><text class="s" x="1023" y="1017">child</text></g>
<g id="H164"><circle class="d15" cx="1100" cy="1005" r="26.5"/><text x="1100" y="1002">H164</text><text class="s" x="1100" y="1017">child</text></g>
<g id="H165"><circle class="d15" cx="1177" cy="1005" r="26.5"/><text x="1177" y="1002">H165</text><text class="s" x="1177" y="1017">child</text></g>
<g id="H214"><circle class="d17" cx="1331" cy="1005" r="26.5"/><text x="1331" y="1010">H214</text></g>
<g id="H213"><circle class="d17" cx="1408" cy="1005" r="26.5"/><text x="1408" y="1010">H213</text></g>
<g id="H209"><circle class="d17" cx="1485" cy="1005" r="26.5"/><text x="1485" y="1010">H209</text></g>
<g id="H175"><circle class="d16" cx="1563" cy="1005" r="26.5"/><text x="1563" y="1010">H175</text></g>
<g id="H192"><circle class="d16" cx="1724" cy="1005" r="26.5"/><text x="1724" y="1010">H192</text></g>

<g id="H215"><circle class="d17 ds" cx="642" cy="1087" r="26.5"/><text x="642" y="1092">H215</text></g>
<g id="H204"><circle class="d17 ds" cx="795" cy="1087" r="26.5"/><text x="795" y="1092">H204</text></g>
<g id="H129"><circle class="d14" cx="870" cy="1087" r="26.5"/><text x="870" y="1092">H129</text></g>
<g id="H130"><circle class="d14" cx="945" cy="1087" r="26.5"/><text x="945" y="1092">H130</text></g>
<g id="H131"><circle class="d14" cx="1023" cy="1087" r="26.5"/><text x="1023" y="1092">H131</text></g>
<g id="H132"><circle class="d14" cx="1100" cy="1087" r="26.5"/><text x="1100" y="1092">H132</text></g>
<g id="H133"><circle class="d14" cx="1177" cy="1087" r="26.5"/><text x="1177" y="1092">H133</text></g>
<g id="H210"><circle class="d17" cx="1485" cy="1087" r="26.5"/><text x="1485" y="1092">H210</text></g>
<g id="H211"><circle class="d17" cx="1563" cy="1087" r="26.5"/><text x="1563" y="1092">H211</text></g>
<g id="H218"><circle class="ri" cx="1878" cy="1087" r="30.5"/><circle class="d17" cx="1878" cy="1087" r="26.5"/><text x="1878" y="1092">H218</text></g>

<g id="N5"><circle class="d7" cx="268" cy="1164" r="26.5"/><text x="268" y="1169">N5</text></g>
<g id="N6"><circle class="d7" cx="341" cy="1164" r="26.5"/><text x="341" y="1169">N6</text></g>
<g id="N1"><circle class="ru" cx="416" cy="1164" r="30.5"/><circle class="d5" cx="416" cy="1164" r="26.5"/><text x="416" y="1169">N1</text></g>
<g id="N3"><circle class="d6" cx="490" cy="1164" r="26.5"/><text x="490" y="1169">N3</text></g>
<g id="H216"><circle class="d17 ds" cx="642" cy="1166" r="26.5"/><text x="642" y="1171">H216</text></g>
<g id="H208"><circle class="d17 ds" cx="795" cy="1166" r="26.5"/><text x="795" y="1171">H208</text></g>
<g id="H134"><circle class="d14" cx="870" cy="1166" r="26.5"/><text x="870" y="1171">H134</text></g>
<g id="H135"><circle class="d14" cx="945" cy="1166" r="26.5"/><text x="945" y="1171">H135</text></g>
<g id="H136"><circle class="d14" cx="1023" cy="1166" r="26.5"/><text x="1023" y="1171">H136</text></g>
<g id="H137"><circle class="d14" cx="1100" cy="1166" r="26.5"/><text x="1100" y="1171">H137</text></g>
<g id="H138"><circle class="d14" cx="1177" cy="1166" r="26.5"/><text x="1177" y="1171">H138</text></g>
<g id="H172"><circle class="ri" cx="1331" cy="1166" r="30.5"/><circle class="d15" cx="1331" cy="1166" r="26.5"/><text x="1331" y="1171">H172</text></g>
<g id="H212"><circle class="d17" cx="1563" cy="1166" r="26.5"/><text x="1563" y="1171">H212</text></g>
<g id="H220"><circle class="ri" cx="1800" cy="1166" r="30.5"/><circle class="d17" cx="1800" cy="1166" r="26.5"/><text x="1800" y="1171">H220</text></g>
<g id="H219"><circle class="ri" cx="1878" cy="1166" r="30.5"/><circle class="d17" cx="1878" cy="1166" r="26.5"/><text x="1878" y="1171">H219</text></g>

<g id="N7"><circle class="d7" cx="268" cy="1243" r="26.5"/><text x="268" y="1248">N7</text></g>
<g id="N8"><circle class="d7" cx="341" cy="1243" r="26.5"/><text x="341" y="1248">N8</text></g>
<g id="N2"><circle class="d6" cx="416" cy="1243" r="26.5"/><text x="416" y="1248">N2</text></g>
<g id="N4"><circle class="d6" cx="490" cy="1243" r="26.5"/><text x="490" y="1248">N4</text></g>
<g id="H217"><circle class="d17" cx="642" cy="1245" r="26.5"/><text x="642" y="1250">H217</text></g>
<g id="H201"><circle class="d17 ds" cx="795" cy="1245" r="26.5"/><text x="795" y="1250">H201</text></g>
<g id="H203"><circle class="d17 ds" cx="870" cy="1245" r="26.5"/><text x="870" y="1250">H203</text></g>
<g id="H207"><circle class="d17 ds" cx="945" cy="1245" r="26.5"/><text x="945" y="1250">H207</text></g>
<g id="H202"><circle class="d17 ds" cx="1023" cy="1245" r="26.5"/><text x="1023" y="1250">H202</text></g>
<g id="H206"><circle class="d17 ds" cx="1100" cy="1245" r="26.5"/><text x="1100" y="1250">H206</text></g>
<g id="H205"><circle class="d17 ds" cx="1177" cy="1245" r="26.5"/><text x="1177" y="1250">H205</text></g>
<g id="H110"><circle class="ri" cx="1331" cy="1245" r="30.5"/><circle class="d12" cx="1331" cy="1245" r="26.5"/><text x="1331" y="1242">H110</text><text class="s" x="1331" y="1257">m</text></g>
<g id="H122"><circle class="d13" cx="1408" cy="1245" r="26.5"/><text x="1408" y="1250">H122</text></g>
<g id="H86"><circle class="ru" cx="1724" cy="1245" r="30.5"/><circle class="d11" cx="1724" cy="1245" r="26.5"/><text x="1724" y="1242">H86</text><text class="s" x="1724" y="1257">m</text></g>
<g id="H87"><circle class="d11" cx="1800" cy="1245" r="26.5"/><text x="1800" y="1242">H87</text><text class="s" x="1800" y="1257">child</text></g>
<g id="H121"><circle class="d13" cx="1878" cy="1245" r="26.5"/><text x="1878" y="1250">H121</text></g>
</g>

<!-- Labels -->
<g id="labels">
<text x="301" y="85" class="i m db">Household contacts</text>
<text x="301" y="101" class="i m db">connected to CS Square</text>
<text x="313" y="280" class="i">Pacific Smiles</text>
<text x="313" y="296" class="i">Dentist</text>
<text x="378" y="352" class="m">Shoppers</text>
<text x="535" y="351" class="i m">Spectacle Hub</text>
<text x="752" y="145">Family</text>
<text x="752" y="161">member</text>
<text x="719" y="273" class="m">Staff</text>
<text x="774" y="30">Additional members of Newport family</text>
<text x="835" y="264" class="i m">Newport Football Club</text>
<text x="682" y="370" class="i">Edwards</text>
<text x="682" y="386" class="i">Sourdough</text>
<text x="682" y="402" class="i">Bakery</text>
<text x="455" y="444" class="i">YPA Real Estate</text>
<text x="532" y="497" class="i m">The Jolly Miller Café</text>
<text x="223" y="446" class="e">Family</text>
<text x="223" y="462" class="e">Contacts</text>
<text x="381" y="684" class="i m">CS Square</text>
<text x="381" y="700" class="i m">Shopping Centre</text>
<text x="517" y="742" class="i e">The Jolly Miller Café</text>
<text x="517" y="758" class="i e">(Melton)</text>
<text x="347" y="801" class="i m">Wolf Café &amp; Eatery</text>
<text x="352" y="892">Staff</text>
<text x="87" y="871" class="i m">Flight QF471</text>
<text x="17" y="987" class="b" style="font-size:13.5px">Interstate (S)</text>
<text x="17" y="1004" class="i" style="font-size:13.5px">Delta (B.1.617.2)</text>
<text x="17" y="1021" style="font-size:13px">2 cases</text>
<text x="12" y="1120" style="font-size:13px">* 3 additional cases are under</text>
<text x="12" y="1137" style="font-size:13px">investigation but not indicated:</text>
<text x="12" y="1154" style="font-size:13px"> - 1 case on 14<tspan dy="-5" font-size="8">th</tspan><tspan dy="5"> August 2021</tspan></text>
<text x="12" y="1171" style="font-size:13px"> - 2 cases on 17<tspan dy="-5" font-size="8">th</tspan><tspan dy="5"> August 2021</tspan></text>
<text x="528" y="1062" class="b e" style="font-size:13px">Maribyrnong 2</text>
<text x="528" y="1078" class="b e" style="font-size:13px">Cluster (N)</text>
<text x="528" y="1095" class="i e" style="font-size:13.5px">Delta (B.1.617.2)</text>
<text x="528" y="1112" class="e" style="font-size:13px">8 cases</text>
<text x="302" y="1112" class="i m">Flight QF445</text>
<text x="610" y="884" class="i m">Altona household</text>
<text x="599" y="986" class="i e">Wyndham Vale</text>
<text x="599" y="1002" class="i e">Household</text>
<text x="907" y="707" class="i">Corpus Christie</text>
<text x="907" y="723" class="i">Primary School</text>
<text x="999" y="785" class="i">Glenroy West</text>
<text x="999" y="801" class="i">Primary School</text>
<text x="944" y="972" class="m">Staff</text>
<text x="1023" y="1130" class="i m">(across 3 households)</text>
<text x="1021" y="660" class="m">Social</text>
<text x="1021" y="676" class="m">Contact</text>
<text x="1221" y="749" class="i">Western</text>
<text x="1221" y="765" class="i">Autistic</text>
<text x="1221" y="781" class="i">School</text>
<text x="1221" y="797" class="i">(via Bus)</text>
<text x="1473" y="820" class="i m">Melton Family</text>
<text x="1390" y="671" class="i m db">Flemington Residential Tower</text>
<text x="1151" y="105" class="i">Al-Taqwa College</text>
<text x="1177" y="192" class="m">Staff</text>
<text x="1370" y="192" class="m">Students</text>
<text x="1368" y="54" class="i e">Australian Islamic</text>
<text x="1368" y="70" class="i e">College of</text>
<text x="1368" y="86" class="i e">Melbourne</text>
<text x="1771" y="102" class="i m db">Household contacts of Al-Taqwa College</text>
<text x="1599" y="676" class="i e db">Mount</text>
<text x="1599" y="692" class="i e db">Alexander</text>
<text x="1599" y="708" class="i e db">College</text>
<text x="1908" y="826" class="i e db">Flemington Residential Tower</text>
<text x="1913" y="859" class="b e" style="font-size:13px">Under Investigation</text>
<text x="1367" y="883" class="i m">480 Lygon Street</text>
<text x="1453" y="1132" class="i">Engagement party</text>
<text x="1368" y="1160">Construction</text>
<text x="1368" y="1176">Worker</text>
<text x="1451" y="1254" class="i">Brunswick</text>
<text x="1451" y="1270" class="i">Household</text>
<text x="1684" y="927" class="e">Cleaner</text>
<text x="1810" y="975" class="i m">Middle Park</text>
<text x="1810" y="991" class="i m">Household</text>
<text x="1879" y="966" class="m">Social</text>
<text x="1879" y="982" class="m">Contact</text>
<text x="1839" y="1080" class="e">St. Kilda</text>
<text x="1839" y="1096" class="e">Resident</text>
<text x="1680" y="1256" class="i e">Melbourne</text>
<text x="1680" y="1272" class="i e">Family</text>
</g>

<!-- Legend box -->
<g id="legend-box">
<rect x="11" y="1178" width="197" height="102" fill="#F2F2F2" stroke="#BFBFBF" stroke-width="1.2"/>
<text x="108" y="1200" class="m" style="font-size:17px">Legend</text>
<circle cx="40" cy="1243" r="26" fill="#FFF2CC" stroke="#000" stroke-width="2.5"/>
<text x="40" y="1241" class="b m" style="font-size:14px">H#</text>
<text x="40" y="1256" class="m">m40s</text>
<path d="M53,1236 L77,1220" stroke="#7F7F7F" stroke-width="1" fill="none"/>
<path d="M56,1253 L75,1257" stroke="#7F7F7F" stroke-width="1" fill="none"/>
<text x="77" y="1223" style="font-size:11.5px">Cluster and case number</text>
<text x="77" y="1252" style="font-size:11.5px">Sex/Age, where known</text>
<text x="77" y="1266" style="font-size:11.5px">(E.g., a man in their 40s)</text>
</g>
</svg>
